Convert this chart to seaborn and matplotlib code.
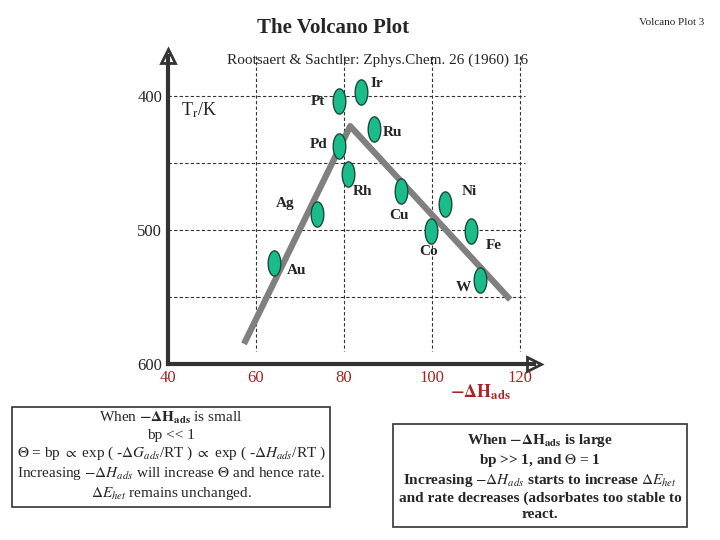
import matplotlib
matplotlib.use("Agg")
import matplotlib.pyplot as plt
import seaborn as sns
import pandas as pd
import numpy as np
from matplotlib.path import Path

sns.set_theme(style="white")
plt.rcParams['font.family'] = ['Liberation Serif', 'DejaVu Serif']
plt.rcParams['mathtext.fontset'] = 'stix'

metals = ["Ir", "Pt", "Ru", "Pd", "Rh", "Cu", "Ni", "Ag", "Co", "Fe", "Au", "W"]
dH = [83.8, 78.8, 86.8, 78.8, 80.8, 92.9, 102.9, 73.8, 99.8, 108.8, 64.1, 110.8]
Tr = [397, 404, 425, 437.5, 458, 471, 481, 488, 501, 501, 525, 537]
lab_x = [87.5, 74.1, 91.1, 74.3, 84.3, 92.5, 108.4, 66.6, 99.1, 113.9, 69.3, 107.0]
lab_y = [391, 404.5, 427, 436.6, 471.6, 489.6, 471.6, 480.6, 516, 512, 530, 543]
line_x = [57.3, 81.4, 117.7]
line_y = [585, 422.6, 552]
xticks = [40, 60, 80, 100, 120]
yticks = [400, 500, 600]
grid_y = [400, 450, 500, 550]
grid_x = [60, 80, 100, 120]

df = pd.DataFrame({"dH": dH, "Tr": Tr, "metal": metals})

fig = plt.figure(figsize=(7.2, 5.4), dpi=100)
ax = fig.add_axes([0.233, 0.326, 0.508, 0.571])

t = np.linspace(0, 2*np.pi, 60)
verts = np.column_stack([0.5*np.cos(t), np.sin(t)])
ell = Path(verts, closed=True)

for gy in grid_y:
    ax.plot([40, 121], [gy, gy], ls=(0, (3, 2)), color='#333333', lw=0.8, zorder=1)
for gx in grid_x:
    ax.plot([gx, gx], [370, 590], ls=(0, (3, 2)), color='#333333', lw=0.8, zorder=1)

ax.plot(line_x, line_y, color='#808080', lw=4.5, solid_capstyle='butt', zorder=2)
sns.scatterplot(data=df, x="dH", y="Tr", marker=ell, s=330, color='#1abc8c',
                edgecolor='#1a4a3a', linewidth=1, ax=ax, zorder=3, legend=False)
for m, lx, ly in zip(metals, lab_x, lab_y):
    ax.text(lx, ly, m, fontsize=11, fontweight='bold', ha='center', va='center')

ax.set_xlim(40, 123)
ax.set_ylim(600, 370)
ax.set_xticks(xticks)
ax.set_yticks(yticks)
ax.set_xticklabels([str(v) for v in xticks], color='#aa2222', fontsize=12)
ax.set_yticklabels([str(v) for v in yticks], fontsize=12)
ax.set_xlabel(""); ax.set_ylabel("")
for s in ['top', 'right']:
    ax.spines[s].set_visible(False)
ax.spines['left'].set_linewidth(3); ax.spines['bottom'].set_linewidth(3)
ax.spines['left'].set_color('#333333'); ax.spines['bottom'].set_color('#333333')
ax.tick_params(length=0, pad=4)
ax.plot([40], [370], marker='^', ms=10, mfc='white', mec='#333333', mew=2, clip_on=False)
ax.plot([123], [600], marker='>', ms=10, mfc='white', mec='#333333', mew=2, clip_on=False)
ax.text(43, 415, r"T$_\mathrm{r}$/K", fontsize=13)
ax.text(111, 614, r"$\mathbf{-\Delta H_{ads}}$", fontsize=13, color='#aa2222', ha='center', va='top')

fig.text(0.463, 0.948, "The Volcano Plot", fontsize=15, fontweight='bold', ha='center', va='center')
fig.text(0.933, 0.958, "Volcano Plot 3", fontsize=8, ha='center', va='center')
fig.text(0.525, 0.888, "Rootsaert & Sachtler: Zphys.Chem. 26 (1960) 16", fontsize=11, ha='center', va='center')

left_txt = ("When $\\mathbf{-\\Delta H_{ads}}$ is small\n"
            "bp << 1\n"
            "$\\Theta$ = bp $\\propto$ exp ( -$\\Delta G_{ads}$/RT ) $\\propto$ exp ( -$\\Delta H_{ads}$/RT )\n"
            "Increasing $-\\Delta H_{ads}$ will increase $\\Theta$ and hence rate.\n"
            "$\\Delta E_{het}$ remains unchanged.")
fig.text(0.2375, 0.155, left_txt, fontsize=11, ha='center', va='center', linespacing=1.25,
         bbox=dict(boxstyle='square,pad=0.3', fc='white', ec='#333333', lw=1.2))
right_txt = ("When $\\mathbf{-\\Delta H_{ads}}$ is large\n"
             "bp >> 1, and $\\Theta$ = 1\n"
             "Increasing $-\\Delta H_{ads}$ starts to increase $\\Delta E_{het}$\n"
             "and rate decreases (adsorbates too stable to\n"
             "react.")
fig.text(0.75, 0.118, right_txt, fontsize=11, ha='center', va='center', linespacing=1.25,
         fontweight='bold',
         bbox=dict(boxstyle='square,pad=0.4', fc='white', ec='#333333', lw=1.2))

fig.savefig("out.png", dpi=100)
